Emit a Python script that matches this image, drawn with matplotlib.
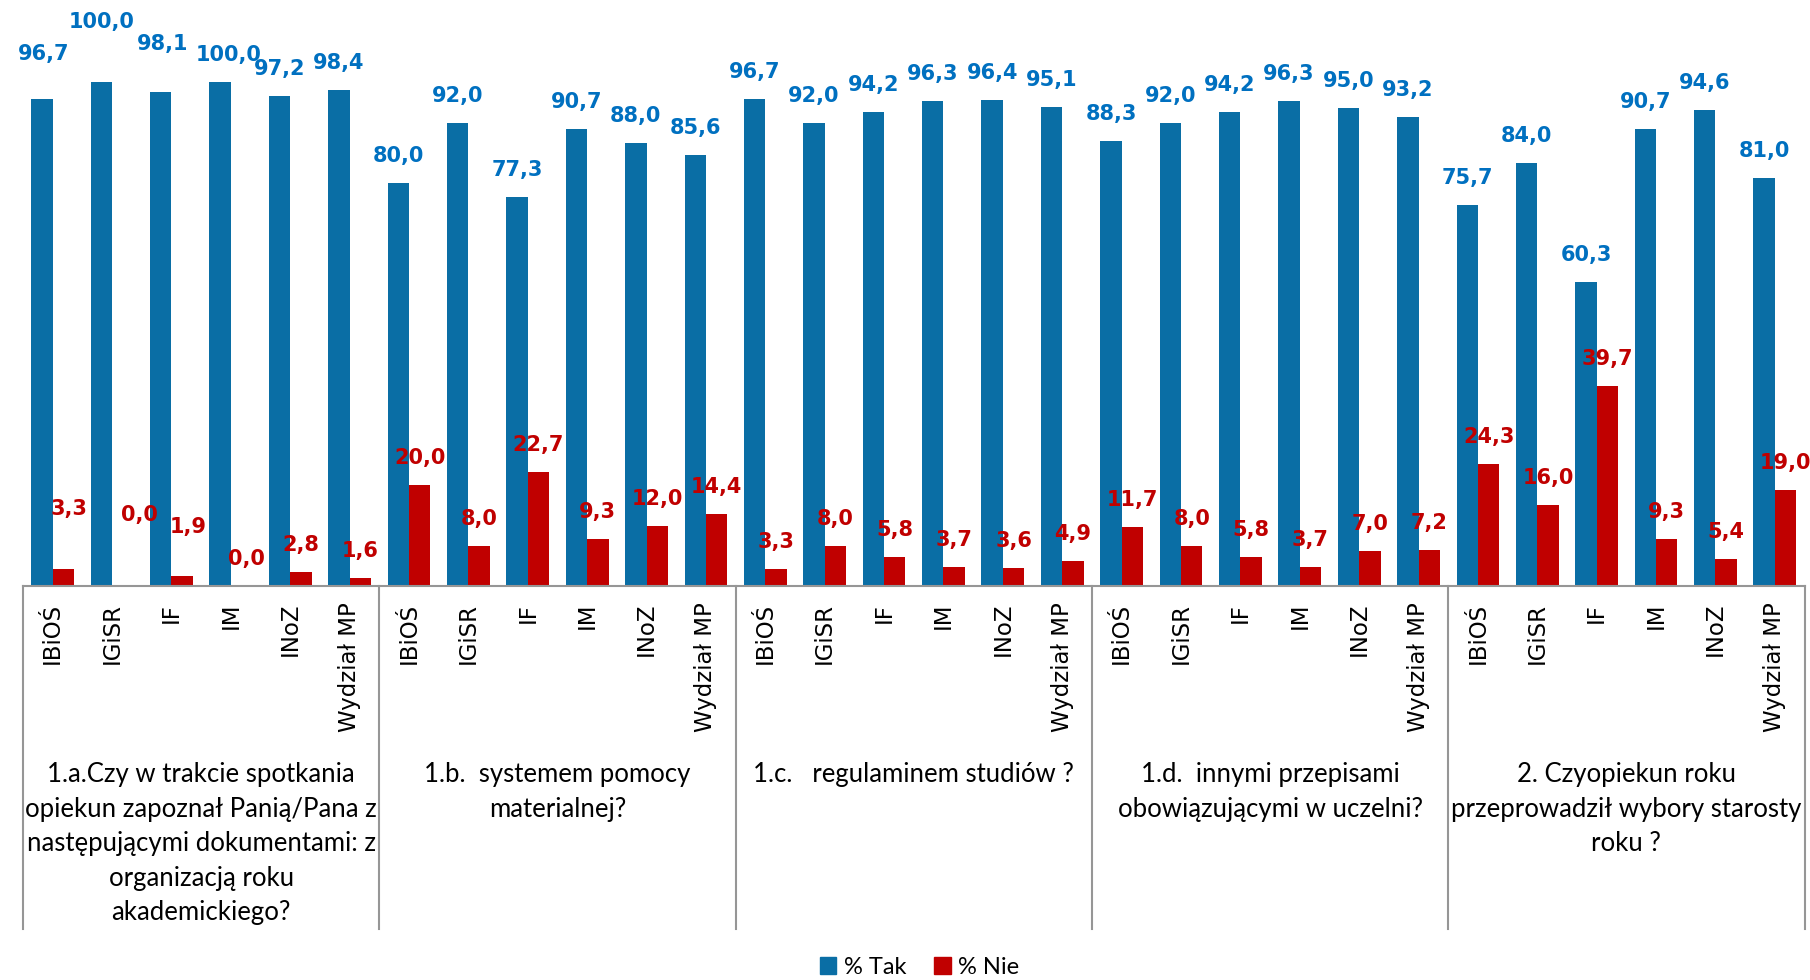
import matplotlib
matplotlib.use("Agg")
import matplotlib.pyplot as plt
import numpy as np
from matplotlib.lines import Line2D
from matplotlib.patches import Patch

# categories (institutes) repeated in every question group
institutes = ["IBiOŚ", "IGiSR", "IF", "IM", "INoZ", "Wydział MP"]

questions = [
    "1.a.Czy w trakcie spotkania\nopiekun zapoznał Panią/Pana z\nnastępującymi dokumentami: z\norganizacją roku\nakademickiego?",
    "1.b.  systemem pomocy\nmaterialnej?",
    "1.c.   regulaminem studiów ?",
    "1.d.  innymi przepisami\nobowiązującymi w uczelni?",
    "2. Czyopiekun roku\nprzeprowadził wybory starosty\nroku ?",
]

tak = [96.7, 100.0, 98.1, 100.0, 97.2, 98.4,
       80.0, 92.0, 77.3, 90.7, 88.0, 85.6,
       96.7, 92.0, 94.2, 96.3, 96.4, 95.1,
       88.3, 92.0, 94.2, 96.3, 95.0, 93.2,
       75.7, 84.0, 60.3, 90.7, 94.6, 81.0]

nie = [3.3, 0.0, 1.9, 0.0, 2.8, 1.6,
       20.0, 8.0, 22.7, 9.3, 12.0, 14.4,
       3.3, 8.0, 5.8, 3.7, 3.6, 4.9,
       11.7, 8.0, 5.8, 3.7, 7.0, 7.2,
       24.3, 16.0, 39.7, 9.3, 5.4, 19.0]

# manual label nudges (pixels) for the crowded first group, like in the original
tak_nudge = {0: (2, 18), 1: (0, 33), 2: (2, 21), 3: (8, 0)}
nie_nudge = {0: (6, 33), 1: (17, 44), 2: (6, 22), 3: (5, 0)}

BLUE = "#0A6EA5"
RED = "#C00000"
LBL_BLUE = "#0070C0"
LBL_RED = "#C00000"
GRID = "#969696"

fig = plt.figure(figsize=(18.1, 9.8), dpi=100)
ax = fig.add_axes([0.0127, 0.402, 0.9843, 0.514])

n = len(tak)
x = np.arange(n)
w = 0.36
ax.bar(x - w / 2, tak, width=w, color=BLUE, label="% Tak")
ax.bar(x + w / 2, nie, width=w, color=RED, label="% Nie")

ax.set_xlim(-0.5, n - 0.5)
ax.set_ylim(0, 100)
ax.set_yticks([])
for s in ["top", "left", "right"]:
    ax.spines[s].set_visible(False)
ax.spines["bottom"].set_color(GRID)
ax.spines["bottom"].set_linewidth(1.5)

lab_font = dict(fontsize=15, fontweight="bold", family="DejaVu Sans")
for i in range(n):
    dx, dy = tak_nudge.get(i, (0, 0))
    ax.annotate(f"{tak[i]:.1f}".replace(".", ","), (x[i] - w / 2, tak[i]),
                xytext=(dx, 27 + dy), textcoords="offset pixels",
                ha="center", va="center", color=LBL_BLUE, **lab_font)
    dx, dy = nie_nudge.get(i, (0, 0))
    ax.annotate(f"{nie[i]:.1f}".replace(".", ","), (x[i] + w / 2, nie[i]),
                xytext=(dx, 27 + dy), textcoords="offset pixels",
                ha="center", va="center", color=LBL_RED, **lab_font)

ax.set_xticks(x)
ax.set_xticklabels(institutes * len(questions), rotation=90, fontsize=16.5,
                   family="DejaVu Sans")
ax.tick_params(axis="x", length=0, pad=12)

# group separators and question labels
n_inst = len(institutes)
trans = ax.get_xaxis_transform()
for g in range(len(questions) + 1):
    xe = g * n_inst - 0.5
    ax.add_line(Line2D([xe, xe], [0, -0.68], transform=trans, color=GRID,
                       lw=1.5, clip_on=False))
for g, q in enumerate(questions):
    xc = g * n_inst + (n_inst - 1) / 2
    ax.text(xc, -0.35, q, transform=trans, ha="center", va="top",
            fontsize=18.5, family="Lato", linespacing=1.47)

handles = [Patch(color=BLUE, label="% Tak"), Patch(color=RED, label="% Nie")]
fig.legend(handles=handles, loc="center", bbox_to_anchor=(0.508, 0.013),
           ncol=2, frameon=False, handlelength=0.7,
           handleheight=0.7, handletextpad=0.3, columnspacing=1.2,
           prop={"family": "Lato", "size": 17})

fig.savefig("out.png", dpi=100)
